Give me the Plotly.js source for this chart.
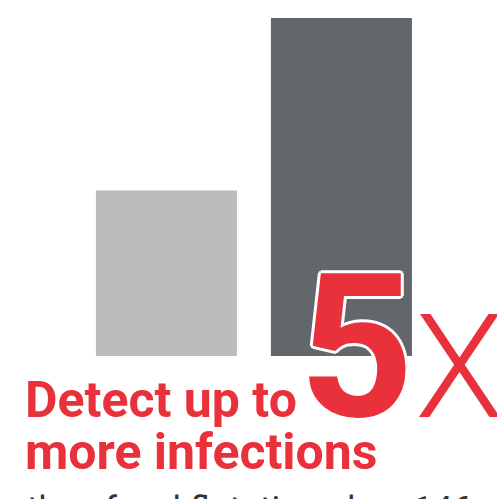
<!DOCTYPE html>
<html><head><meta charset="utf-8">
<script src="https://cdn.plot.ly/plotly-3.0.1.min.js"></script>
<style>html,body{margin:0;padding:0;background:#fff;}#c{width:497px;height:499px;}</style>
</head><body><div id="c"></div>
<script>
const categories = ["Fecal flotation", "Combined"];
const values = [49, 100];
const barColors = ["#bcbcbc", "#63666b"];
const bigNumber = "5";
const bigSuffix = "X";
const line1 = "Detect up to";
const line2 = "more infections";
const line3 = "than fecal flotation alone146";

const W = 497, H = 499;
const py = p => 1 - p / H;
const px = p => p / W;
const red = "#e8313a";

const data = [{
  type: "bar",
  x: [0, 1],
  y: values,
  width: 0.806,
  marker: {color: barColors, line: {width: 0}},
  hoverinfo: "skip"
}];

const shadowW = "3px 0 0 #fff, -3px 0 0 #fff, 0 3px 0 #fff, 0 -3px 0 #fff, 2px 2px 0 #fff, -2px -2px 0 #fff, 2px -2px 0 #fff, -2px 2px 0 #fff";

const layout = {
  width: W, height: H,
  margin: {l: 0, r: 0, t: 0, b: 0},
  paper_bgcolor: "#fff", plot_bgcolor: "#fff",
  showlegend: false,
  xaxis: {range: [-0.951, 1.889], visible: false, fixedrange: true},
  yaxis: {range: [-42.31, 105.33], visible: false, fixedrange: true},
  annotations: [
    {text: line1, xref: "paper", yref: "paper", x: px(23), y: py(400), xanchor: "left", yanchor: "middle",
     showarrow: false, font: {family: "Roboto", size: 50, color: red, weight: 700}},
    {text: line2, xref: "paper", yref: "paper", x: px(23), y: py(452), xanchor: "left", yanchor: "middle",
     showarrow: false, font: {family: "Roboto", size: 50, color: red, weight: 700}},
    {text: bigNumber, xref: "paper", yref: "paper", x: px(356), y: py(347), xanchor: "center", yanchor: "middle",
     showarrow: false, font: {family: "Roboto", size: 200, color: red, weight: 700, shadow: shadowW}},
    {text: bigSuffix, xref: "paper", yref: "paper", x: px(413), y: py(367), xanchor: "left", yanchor: "middle",
     showarrow: false, font: {family: "Roboto", size: 145, color: red, weight: 300}},
    {text: line3, xref: "paper", yref: "paper", x: px(25), y: py(487), xanchor: "left", yanchor: "top",
     showarrow: false, font: {family: "Roboto", size: 35, color: "#333333"}}
  ]
};
Plotly.newPlot("c", data, layout, {displayModeBar: false, staticPlot: true});
</script></body></html>
